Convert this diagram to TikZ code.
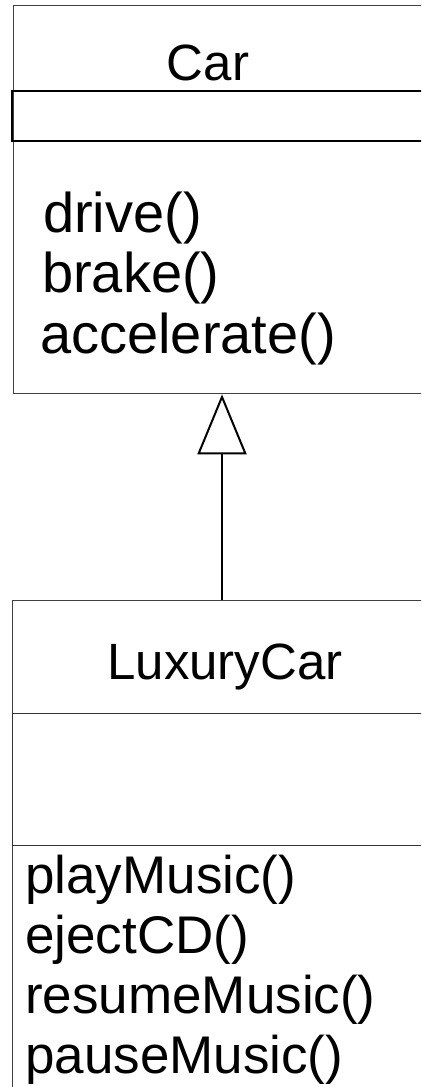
\documentclass[tikz,border=0pt]{standalone}
\usepackage{fontspec}
\setmainfont{Liberation Sans}
\usetikzlibrary{arrows.meta}
\begin{document}
\begin{tikzpicture}[x=1pt,y=-1pt,
  classbox/.style={draw=black!75,line width=1.3pt,rectangle,inner sep=0pt,anchor=north west},
  attrbox/.style={draw=black,line width=2pt,rectangle,inner sep=0pt,anchor=north west},
  sepbox/.style={draw=black!80,line width=1.2pt,rectangle,inner sep=0pt,anchor=north west},
  titletext/.style={inner sep=0pt,anchor=base,font=\fontsize{51}{60}\selectfont},
  methodtext/.style={inner sep=0pt,anchor=base west,font=\fontsize{56}{60}\selectfont},
  luxmethod/.style={inner sep=0pt,anchor=base west,font=\fontsize{53}{60}\selectfont},
  inherit/.style={line width=2pt,-{Triangle[open,length=60pt,width=49pt,line width=2pt]}}]
\useasboundingbox (0,0) rectangle (421,1087);
\clip (0,0) rectangle (421,1087);
% Car class
\node[classbox,minimum width=430pt,minimum height=388pt] (car) at (13,5) {};
\node[attrbox,minimum width=430pt,minimum height=50pt] (carattr) at (11,90) {};
\node[titletext] (cartitle) at (208,80) {Car};
\node[methodtext] (m1) at (43,232) {drive()};
\node[methodtext] (m2) at (42,292) {brake()};
\node[methodtext] (m3) at (40,353) {accelerate()};
% LuxuryCar class
\node[classbox,minimum width=430pt,minimum height=600pt] (lux) at (12,600) {};
\node[sepbox,minimum width=430pt,minimum height=132pt] (luxattr) at (12,713) {};
\node[titletext] (luxtitle) at (225,679) {LuxuryCar};
\node[luxmethod] (l1) at (25,893) {playMusic()};
\node[luxmethod] (l2) at (25,953) {ejectCD()};
\node[luxmethod] (l3) at (25,1013) {resumeMusic()};
\node[luxmethod] (l4) at (25,1073) {pauseMusic()};
% generalization
\coordinate (apex) at (222,393);
\draw[inherit] (apex |- lux.north) -- (apex |- car.south);
\end{tikzpicture}
\end{document}
